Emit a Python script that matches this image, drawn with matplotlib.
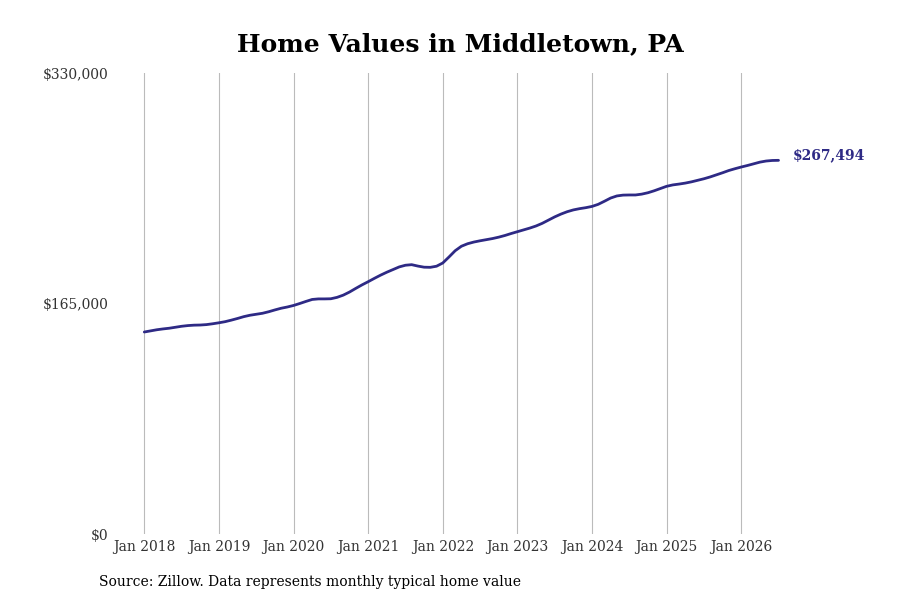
import matplotlib
matplotlib.use("Agg")
import matplotlib.pyplot as plt
import numpy as np

title = "Home Values in Middletown, PA"
source = "Source: Zillow. Data represents monthly typical home value"
start_year = 2018
values = [
    144600, 145400, 146200, 146800, 147300, 148000, 148700, 149200, 149500, 149600, 149900, 150500,
    151200, 152000, 153100, 154300, 155600, 156600, 157300, 158000, 159100, 160400, 161600, 162500,
    163600, 165000, 166500, 167900, 168300, 168300, 168400, 169400, 171000, 173200, 175800, 178300,
    180600, 183000, 185300, 187400, 189300, 191200, 192400, 192800, 191800, 191000, 190900, 191700,
    194000, 198300, 202800, 206000, 207800, 209000, 209900, 210700, 211500, 212500, 213700, 215100,
    216400, 217700, 219000, 220500, 222400, 224700, 227000, 229000, 230700, 232000, 232900, 233600,
    234500, 236000, 238200, 240500, 242000, 242600, 242700, 242700, 243300, 244300, 245700, 247300,
    248900, 249900, 250500, 251200, 252100, 253200, 254300, 255600, 257100, 258600, 260200, 261500,
    262700, 263800, 265000, 266200, 267000, 267400, 267494,
]
tick_years = list(range(2018, 2027))
tick_labels = [f"Jan {y}" for y in tick_years]
y_ticks = [0, 165000, 330000]
y_labels = ["$0", "$165,000", "$330,000"]

color = "#2e2a85"
x = start_year + np.arange(len(values)) / 12.0

fig = plt.figure(figsize=(9, 6), dpi=100)
ax = fig.add_axes([0.128, 0.11, 0.742, 0.7683])
ax.plot(x, values, color=color, lw=2.0, solid_capstyle="round")
ax.set_xlim(2017.61, 2026.56)
ax.set_ylim(0, 330000)
ax.set_xticks(tick_years)
ax.set_xticklabels(tick_labels, family="DejaVu Serif", fontsize=10, color="#333333")
ax.set_yticks(y_ticks)
ax.set_yticklabels(y_labels, family="DejaVu Serif", fontsize=10, color="#333333")
ax.tick_params(length=0, pad=4)
ax.tick_params(axis="y", pad=5)
ax.grid(axis="x", color="#bbbbbb", lw=0.8)
ax.grid(axis="y", visible=False)
for s in ax.spines.values():
    s.set_visible(False)

ax.annotate(f"${values[-1]:,}", xy=(x[-1], values[-1]), xytext=(10, 4),
            textcoords="offset points", family="DejaVu Serif", fontweight="bold",
            fontsize=10, color=color, va="center", ha="left", annotation_clip=False)

fig.text(0.512, 0.926, title, ha="center", va="center", family="DejaVu Serif",
         fontweight="bold", fontsize=18)
fig.text(0.11, 0.03, source, ha="left", va="center", family="DejaVu Serif", fontsize=10)

fig.savefig("out.png", dpi=100)
